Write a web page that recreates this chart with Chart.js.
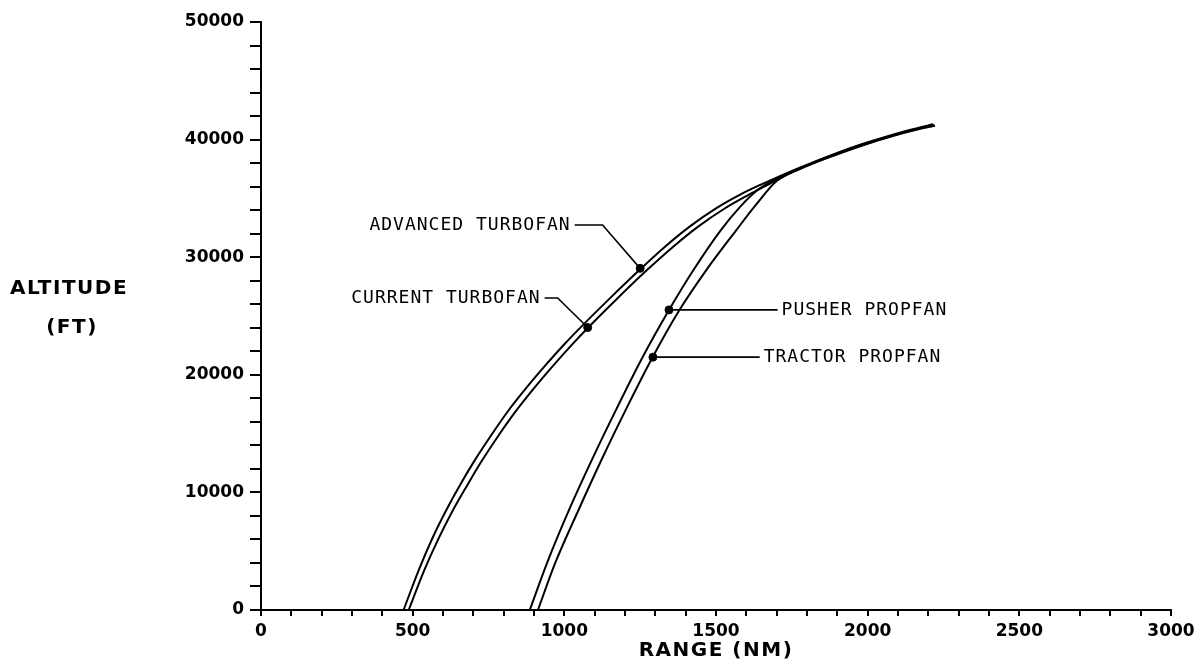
<!DOCTYPE html>
<html>
<head>
<meta charset="utf-8">
<script src="https://cdn.jsdelivr.net/npm/chart.js@4.4.1/dist/chart.umd.min.js"></script>
<style>
  html, body { margin: 0; padding: 0; background: #fff; }
  #wrap { width: 1204px; height: 665px; }
</style>
</head>
<body>
<div id="wrap"><canvas id="chart"></canvas></div>
<script>
// 航程 (NM) / 高度 (FT) 数据
const advancedRange  = [470, 520, 565, 611, 660, 704, 760, 814, 880, 941, 1000, 1056, 1150, 1243, 1330, 1413, 1500, 1578, 1640, 1687, 1780, 1880, 1980, 2080, 2160, 2215];
const advancedAlt    = [0, 3400, 6100, 8500, 10800, 12700, 14900, 16900, 19050, 20900, 22600, 24100, 26500, 28800, 30850, 32600, 34150, 35300, 36080, 36620, 37650, 38680, 39600, 40400, 40950, 41300];

const currentRange   = [487, 537, 584, 631, 682, 726, 782, 837, 903, 964, 1023, 1078, 1173, 1268, 1357, 1441, 1526, 1600, 1655, 1700, 1780, 1880, 1980, 2080, 2160, 2220];
const currentAlt     = [0, 3300, 6000, 8400, 10700, 12600, 14800, 16800, 18950, 20800, 22500, 24000, 26450, 28800, 30850, 32600, 34100, 35200, 35950, 36560, 37570, 38600, 39520, 40320, 40870, 41220];

const pusherRange    = [886, 946, 1017, 1095, 1172, 1254, 1345, 1423, 1513, 1580, 1634, 1687, 1780, 1880, 1980, 2080, 2160, 2218];
const pusherAlt      = [0, 4200, 8600, 13000, 17100, 21300, 25500, 28800, 32200, 34300, 35650, 36500, 37610, 38640, 39560, 40360, 40910, 41260];

const tractorRange   = [913, 970, 1045, 1125, 1204, 1287, 1377, 1468, 1567, 1630, 1700, 1780, 1880, 1980, 2080, 2160, 2222];
const tractorAlt     = [0, 4000, 8400, 12900, 17100, 21300, 25400, 28900, 32300, 34400, 36480, 37530, 38560, 39480, 40280, 40830, 41180];

// 标注：文字、圆点、引线（数据坐标）
const labelNames   = ['ADVANCED TURBOFAN', 'CURRENT TURBOFAN', 'PUSHER PROPFAN', 'TRACTOR PROPFAN'];
const labelAlign   = ['right', 'right', 'left', 'left'];
const dotRange     = [1250, 1077, 1345, 1292];
const dotAlt       = [29050, 24020, 25520, 21500];
const elbowRange   = [1126, 978, 1684, 1628];
const elbowAlt     = [32740, 26530, 25520, 21500];
const textRange    = [1034, 935, 1703, 1644];
const textAlt      = [32740, 26530, 25520, 21500];

const xTickStep = 100, xLabelStep = 500;
const yTickStep = 2000, yLabelStep = 10000;

function pts(xs, ys) {
    return xs.map((x, i) => ({ x: x, y: ys[i] }));
}

function curve(label, xs, ys) {
    return {
        label: label,
        data: pts(xs, ys),
        showLine: true,
        borderColor: '#000',
        borderWidth: 2,
        pointRadius: 0,
        cubicInterpolationMode: 'monotone',
        fill: false
    };
}

const datasets = [
    curve('Advanced Turbofan', advancedRange, advancedAlt),
    curve('Current Turbofan', currentRange, currentAlt),
    curve('Pusher Propfan', pusherRange, pusherAlt),
    curve('Tractor Propfan', tractorRange, tractorAlt),
    {
        label: 'dots',
        data: pts(dotRange, dotAlt),
        showLine: false,
        pointRadius: 4,
        pointBackgroundColor: '#000',
        pointBorderColor: '#000'
    }
];

// 标注与轴标题
const annotPlugin = {
    id: 'annot',
    afterDatasetsDraw(chart) {
        const ctx = chart.ctx;
        const xs = chart.scales.x, ys = chart.scales.y;
        const area = chart.chartArea;
        ctx.save();
        ctx.strokeStyle = '#000';
        ctx.fillStyle = '#000';
        ctx.lineWidth = 1.6;
        labelNames.forEach((name, i) => {
            const tx = xs.getPixelForValue(textRange[i]);
            const ty = ys.getPixelForValue(textAlt[i]);
            const ex = xs.getPixelForValue(elbowRange[i]);
            const ey = ys.getPixelForValue(elbowAlt[i]);
            const dx = xs.getPixelForValue(dotRange[i]);
            const dy = ys.getPixelForValue(dotAlt[i]);
            ctx.beginPath();
            ctx.moveTo(tx, ty);
            ctx.lineTo(ex, ey);
            ctx.lineTo(dx, dy);
            ctx.stroke();
            ctx.font = '18px "DejaVu Sans Mono"';
            ctx.letterSpacing = '1px';
            ctx.textBaseline = 'middle';
            ctx.textAlign = labelAlign[i];
            ctx.fillText(name, tx + (labelAlign[i] === 'right' ? -4 : 4), ty);
        });

        // 轴标题
        ctx.letterSpacing = '1.5px';
        ctx.font = 'bold 20px "DejaVu Sans"';
        ctx.textAlign = 'center';
        ctx.textBaseline = 'middle';
        ctx.fillText('ALTITUDE', area.left - 192, ys.getPixelForValue(27300));
        ctx.fillText('(FT)', area.left - 189, ys.getPixelForValue(27300) + 39);
        ctx.fillText('RANGE (NM)', (area.left + area.right) / 2, area.bottom + 41);
        ctx.restore();
    }
};

new Chart(document.getElementById('chart'), {
    type: 'scatter',
    data: { datasets: datasets },
    options: {
        responsive: true,
        maintainAspectRatio: false,
        animation: false,
        layout: { padding: { left: 0, right: 33, top: 22, bottom: 0 } },
        plugins: {
            legend: { display: false },
            tooltip: { enabled: false }
        },
        scales: {
            x: {
                type: 'linear',
                min: 0,
                max: 3000,
                afterFit: (scale) => { scale.height = 55; },
                border: { color: '#000', width: 2 },
                grid: { drawOnChartArea: false, tickLength: 6, color: '#000', lineWidth: 2 },
                ticks: {
                    stepSize: xTickStep,
                    autoSkip: false,
                    maxRotation: 0,
                    padding: 5,
                    color: '#000',
                    font: { family: 'DejaVu Sans', weight: 'bold', size: 17 },
                    callback: (v) => (v % xLabelStep === 0 ? String(v) : '')
                }
            },
            y: {
                type: 'linear',
                min: 0,
                max: 50000,
                afterFit: (scale) => { scale.width = 261; },
                border: { color: '#000', width: 2 },
                grid: { drawOnChartArea: false, tickLength: 11, color: '#000', lineWidth: 2 },
                ticks: {
                    stepSize: yTickStep,
                    autoSkip: false,
                    padding: 6,
                    color: '#000',
                    font: { family: 'DejaVu Sans', weight: 'bold', size: 17 },
                    callback: (v) => (v % yLabelStep === 0 ? String(v) : '')
                }
            }
        }
    },
    plugins: [annotPlugin]
});
</script>
</body>
</html>
